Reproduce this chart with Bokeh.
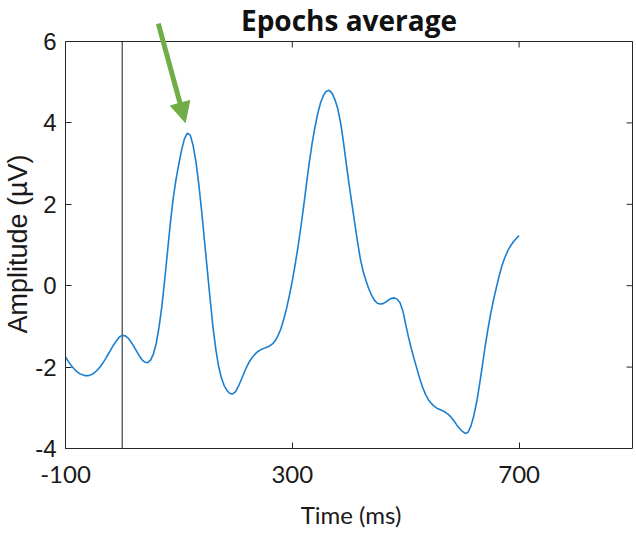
from bokeh.plotting import figure
from bokeh.models import Range1d, FixedTicker, Label, Arrow, NormalHead, Title
from bokeh.embed import file_html
from bokeh.resources import INLINE

# Averaged ERP waveform, sampled every 5 ms from -100 to 700 ms
time_ms = list(range(-100, 705, 5))
amplitude_uv = [
    -1.75, -1.86, -1.96, -2.04, -2.11, -2.16, -2.19, -2.21, -2.21, -2.19,
    -2.15, -2.09, -2.01, -1.92, -1.81, -1.69, -1.57, -1.45, -1.35, -1.26,
    -1.22, -1.23, -1.28, -1.37, -1.48, -1.60, -1.72, -1.82, -1.88, -1.89,
    -1.83, -1.68, -1.42, -1.02, -0.50, 0.15, 0.85, 1.55, 2.15, 2.62,
    3.00, 3.35, 3.62, 3.75, 3.70, 3.45, 3.05, 2.50, 1.85, 1.12,
    0.40, -0.32, -1.00, -1.55, -1.98, -2.27, -2.46, -2.58, -2.65, -2.66,
    -2.60, -2.47, -2.31, -2.14, -1.98, -1.85, -1.75, -1.67, -1.61, -1.57,
    -1.54, -1.51, -1.48, -1.43, -1.35, -1.22, -1.05, -0.82, -0.55, -0.23,
    0.12, 0.52, 0.95, 1.43, 1.95, 2.50, 3.03, 3.50, 3.90, 4.24,
    4.50, 4.68, 4.78, 4.80, 4.73, 4.58, 4.36, 4.02, 3.55, 3.02,
    2.50, 2.02, 1.55, 1.08, 0.66, 0.35, 0.12, -0.08, -0.24, -0.36,
    -0.43, -0.45, -0.44, -0.40, -0.35, -0.31, -0.30, -0.33, -0.42, -0.62,
    -0.95, -1.27, -1.55, -1.81, -2.05, -2.29, -2.50, -2.67, -2.80, -2.89,
    -2.96, -3.01, -3.04, -3.07, -3.11, -3.16, -3.23, -3.32, -3.42, -3.51,
    -3.58, -3.63, -3.60, -3.45, -3.20, -2.87, -2.45, -1.98, -1.50, -1.07,
    -0.68, -0.34, -0.04, 0.25, 0.50, 0.70, 0.86, 0.98, 1.08, 1.16,
    1.23,
]

x_ticks = [-100, 300, 700]
y_ticks = [-4, -2, 0, 2, 4, 6]
x_limits = (-100, 900)
y_limits = (-4, 6)
stimulus_onset = 0
peak_marker_start = (63.7, 6.44)
peak_marker_end = (111.3, 4.01)

AXIS_COLOR = "#262626"
TEXT_COLOR = "#1a1a1a"
TRACE_COLOR = "#1a7fd0"
ARROW_COLOR = "#70AD47"

# pixel scale of the axes box (used for tick lengths and headroom)
PX_PER_MS = 0.568
PX_PER_UV = 40.7
TICK_PX = 6
HEADROOM_PX = 41
RIGHT_PAD_PX = 4

# the frame reaches the top of the canvas so the title and arrow can sit
# above the axes box; the box itself is drawn at the axis limits
p = figure(width=636, height=533, output_backend="svg", toolbar_location=None,
           x_range=Range1d(x_limits[0], x_limits[1] + RIGHT_PAD_PX / PX_PER_MS),
           y_range=Range1d(y_limits[0], y_limits[1] + HEADROOM_PX / PX_PER_UV),
           min_border_left=64, min_border_right=0, min_border_top=0,
           min_border_bottom=85, x_axis_label="Time (ms)")
p.background_fill_color = "white"
p.border_fill_color = "white"
p.grid.visible = False
p.outline_line_color = None

def tick_text(v):
    return str(v).replace("\u2212", "-")

# bottom axis
xa = p.xaxis[0]
xa.ticker = FixedTicker(ticks=x_ticks)
xa.bounds = x_limits
xa.major_label_overrides = {t: tick_text(t) for t in x_ticks}
xa.axis_line_color = AXIS_COLOR
xa.major_tick_line_color = AXIS_COLOR
xa.major_tick_in = TICK_PX
xa.major_tick_out = 0
xa.minor_tick_line_color = None
xa.major_label_text_font = "Lato"
xa.major_label_text_font_size = "24px"
xa.major_label_text_color = TEXT_COLOR
xa.major_label_standoff = 17
xa.axis_label_text_font = "Lato"
xa.axis_label_text_font_size = "24px"
xa.axis_label_text_font_style = "normal"
xa.axis_label_text_color = TEXT_COLOR
xa.axis_label_standoff = 14

# left axis
ya = p.yaxis[0]
ya.ticker = FixedTicker(ticks=y_ticks)
ya.bounds = y_limits
ya.major_label_overrides = {t: tick_text(t) for t in y_ticks}
ya.axis_line_color = AXIS_COLOR
ya.major_tick_line_color = AXIS_COLOR
ya.major_tick_in = TICK_PX
ya.major_tick_out = 0
ya.minor_tick_line_color = None
ya.major_label_text_font = "Liberation Sans"
ya.major_label_text_font_size = "24px"
ya.major_label_text_color = TEXT_COLOR
ya.major_label_standoff = 9

# y-axis title, placed along the axes box rather than the whole frame
p.add_layout(Title(text="Amplitude (\u00b5V)", align="left", offset=115,
                   standoff=0, text_font="Liberation Sans",
                   text_font_size="27px", text_font_style="normal",
                   text_color=TEXT_COLOR), "left")

# top and right edges of the box, with inward tick marks
x0, x1 = x_limits
y0, y1 = y_limits
p.segment(x0=[x0, x1], y0=[y1, y0], x1=[x1, x1], y1=[y1, y1],
          line_color=AXIS_COLOR, line_width=1)
p.segment(x0=x_ticks, y0=[y1] * len(x_ticks), x1=x_ticks,
          y1=[y1 - TICK_PX / PX_PER_UV] * len(x_ticks),
          line_color=AXIS_COLOR, line_width=1)
p.segment(x0=[x1] * len(y_ticks), y0=y_ticks,
          x1=[x1 - TICK_PX / PX_PER_MS] * len(y_ticks), y1=y_ticks,
          line_color=AXIS_COLOR, line_width=1)

# stimulus onset
p.segment(x0=[stimulus_onset], y0=[y0], x1=[stimulus_onset], y1=[y1],
          line_color=TEXT_COLOR, line_width=1)

# waveform
p.line(time_ms, amplitude_uv, line_color=TRACE_COLOR, line_width=1.6)

# title
p.add_layout(Label(x=(x0 + x1) / 2, y=y1 + 22 / PX_PER_UV,
                   text="Epochs average", text_align="center",
                   text_baseline="alphabetic", text_font="Open Sans",
                   text_font_style="bold", text_font_size="28px",
                   text_color="#111111"))

# arrow pointing at the first peak
p.add_layout(Arrow(end=NormalHead(size=20, fill_color=ARROW_COLOR,
                                  line_color=ARROW_COLOR, line_width=1),
                   x_start=peak_marker_start[0], y_start=peak_marker_start[1],
                   x_end=peak_marker_end[0], y_end=peak_marker_end[1],
                   line_color=ARROW_COLOR, line_width=5))

open("out.html", "w").write(file_html(p, INLINE))
